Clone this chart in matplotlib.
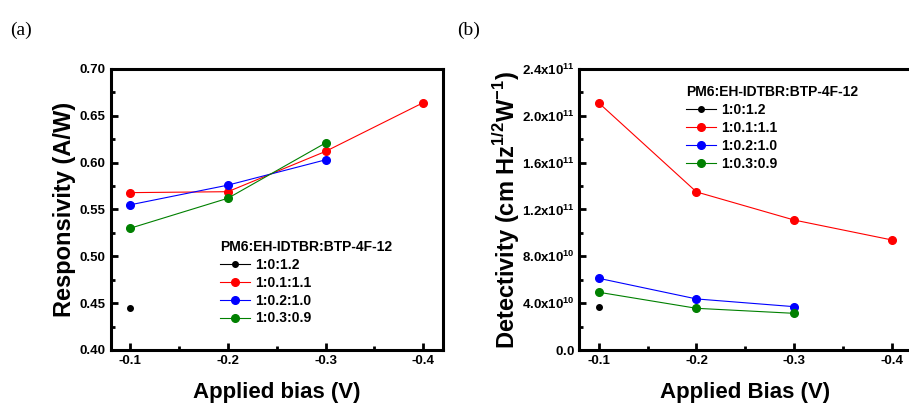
import numpy as np
import matplotlib
matplotlib.use("Agg")
import matplotlib.pyplot as plt
from matplotlib.ticker import MultipleLocator, AutoMinorLocator, FuncFormatter

plt.rcParams['font.family'] = ['Liberation Sans', 'DejaVu Sans']
plt.rcParams['font.weight'] = 'bold'
plt.rcParams['mathtext.fontset'] = 'custom'
plt.rcParams['mathtext.rm'] = 'Liberation Sans:bold'
plt.rcParams['mathtext.bf'] = 'Liberation Sans:bold'

# data
bias = [-0.1, -0.2, -0.3, -0.4]
labels = ['1:0:1.2', '1:0.1:1.1', '1:0.2:1.0', '1:0.3:0.9']
colors = ['black', 'red', 'blue', 'green']
legend_title = 'PM6:EH-IDTBR:BTP-4F-12'

resp = {
    '1:0:1.2':   [0.445],
    '1:0.1:1.1': [0.568, 0.569, 0.612, 0.664],
    '1:0.2:1.0': [0.555, 0.576, 0.603],
    '1:0.3:0.9': [0.530, 0.562, 0.621],
}
det = {
    '1:0:1.2':   [0.365e11],
    '1:0.1:1.1': [2.11e11, 1.35e11, 1.11e11, 0.94e11],
    '1:0.2:1.0': [0.612e11, 0.436e11, 0.37e11],
    '1:0.3:0.9': [0.493e11, 0.356e11, 0.313e11],
}

fig = plt.figure(figsize=(9.09, 4.09), dpi=100)
axa = fig.add_axes([0.1218, 0.1443, 0.3652, 0.687])
axb = fig.add_axes([0.6373, 0.1443, 0.3652, 0.687])


def style(ax):
    for s in ax.spines.values():
        s.set_linewidth(2.2)
    ax.tick_params(which='both', direction='in', top=False, right=False,
                   labelsize=9.5, width=2)
    ax.tick_params(which='major', length=5)
    ax.tick_params(which='minor', length=3)
    ax.set_xlim(-0.08, -0.42)
    ax.set_xticks(bias)
    ax.xaxis.set_minor_locator(AutoMinorLocator(2))
    ax.yaxis.set_minor_locator(AutoMinorLocator(2))
    ax.xaxis.set_major_formatter(FuncFormatter(lambda v, p: f'{v:.1f}'))


def draw(ax, data):
    for lab, c in zip(labels, colors):
        y = data[lab]
        ms = 4 if c == 'black' else 5.5
        ax.plot(bias[:len(y)], y, '-o', color=c, lw=0.8, ms=ms,
                markeredgecolor=c, label=lab)


def add_legend(ax, anchor):
    leg = ax.legend(title=legend_title, loc='upper left', bbox_to_anchor=anchor,
                    frameon=False, fontsize=10,
                    title_fontproperties={'size': 10, 'weight': 'bold'},
                    handlelength=2.2, handletextpad=0.35, labelspacing=0.28,
                    borderpad=0, borderaxespad=0)
    leg._legend_box.align = 'left'


draw(axa, resp)
style(axa)
axa.set_ylim(0.40, 0.70)
axa.yaxis.set_major_locator(MultipleLocator(0.05))
axa.yaxis.set_major_formatter(FuncFormatter(lambda v, p: f'{v:.2f}'))
axa.set_xlabel('Applied bias (V)', fontsize=16, fontweight='bold', labelpad=11)
axa.set_ylabel('Responsivity (A/W)', fontsize=17, fontweight='bold', labelpad=3)
add_legend(axa, (0.329, 0.392))


def sci(v, p):
    if abs(v) < 1:
        return r'$\mathbf{0.0}$'
    if v < 0:
        return ''
    e = int(np.floor(np.log10(v)))
    m = v / 10 ** e
    return r'$\mathbf{%.1fx10^{%d}}$' % (m, e)


draw(axb, det)
style(axb)
axb.set_ylim(0, 2.4e11)
axb.yaxis.set_major_locator(MultipleLocator(0.4e11))
axb.yaxis.set_major_formatter(FuncFormatter(sci))
axb.set_xlabel('Applied Bias (V)', fontsize=16, fontweight='bold', labelpad=11)
axb.set_ylabel(r'Detectivity (cm Hz$^{1/2}$W$^{-1}$)', fontsize=17, fontweight='bold', labelpad=0)
add_legend(axb, (0.321, 0.942))

fig.text(0.011, 0.915, '(a)', family='Liberation Serif', fontsize=14, fontweight='normal')
fig.text(0.503, 0.915, '(b)', family='Liberation Serif', fontsize=14, fontweight='normal')

fig.savefig('out.png', dpi=100)
